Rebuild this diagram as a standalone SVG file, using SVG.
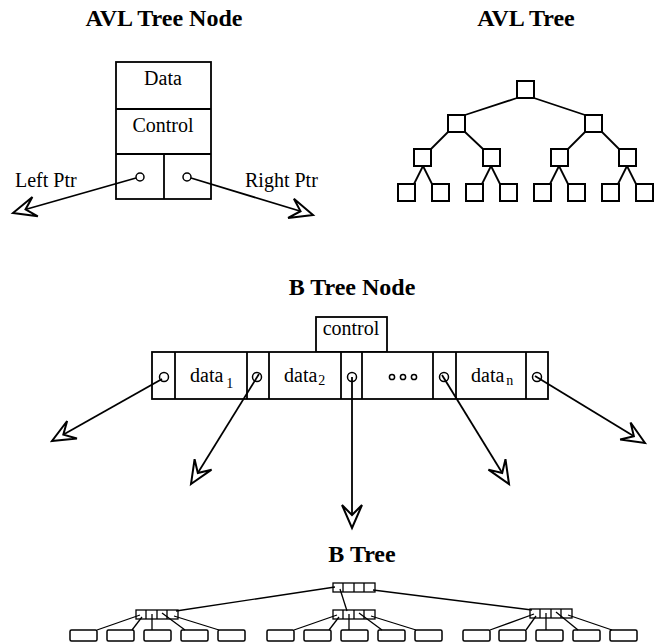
<svg xmlns="http://www.w3.org/2000/svg" width="654" height="644" viewBox="0 0 654 644">
<style>
.t{font-family:"Liberation Serif","Times New Roman",serif;fill:#000}
.title{font-size:24px;font-weight:bold}
.lbl{font-size:20px}
.sub{font-size:14px}
.bx{fill:#fff;stroke:#000;stroke-width:1.8}
.ln{fill:none;stroke:#000;stroke-width:1.8}
.thin{fill:none;stroke:#000;stroke-width:1.3}
.sq{fill:#fff;stroke:#000;stroke-width:2}
.leaf{fill:#fff;stroke:#000;stroke-width:1.5}
.mn{fill:#fff;stroke:#000;stroke-width:1.3}
.cir{fill:#fff;stroke:#000;stroke-width:1.5}
</style>
<defs>
<marker id="ah" markerUnits="userSpaceOnUse" orient="auto" refX="0" refY="0" markerWidth="30" markerHeight="30" overflow="visible">
<path d="M0,0 L-23,-10 L-13,0 L-23,10 Z" fill="#fff" stroke="#000" stroke-width="2" stroke-linejoin="miter"/>
</marker>
</defs>
<rect width="654" height="644" fill="#fff"/>

<!-- Titles -->
<text class="t title" x="164" y="26" text-anchor="middle">AVL Tree Node</text>
<text class="t title" x="526" y="26" text-anchor="middle">AVL Tree</text>
<text class="t title" x="352" y="295" text-anchor="middle">B Tree Node</text>
<text class="t title" x="362" y="562" text-anchor="middle">B Tree</text>

<!-- AVL Tree Node -->
<g id="avl-node">
<rect class="bx" x="116" y="62" width="95" height="137"/>
<line class="ln" x1="116" y1="109" x2="211" y2="109"/>
<line class="ln" x1="116" y1="154" x2="211" y2="154"/>
<line class="ln" x1="164" y1="154" x2="164" y2="199"/>
<text class="t lbl" x="163" y="85" text-anchor="middle">Data</text>
<text class="t lbl" x="163" y="132" text-anchor="middle">Control</text>
<circle class="cir" cx="140" cy="177" r="4"/>
<circle class="cir" cx="187" cy="177" r="4"/>
</g>
<text class="t lbl" x="15" y="187">Left Ptr</text>
<text class="t lbl" x="245" y="187">Right Ptr</text>

<!-- AVL Tree -->
<g id="avl-tree">
<rect class="sq" x="517" y="81" width="17" height="17"/>
<rect class="sq" x="448" y="115" width="17" height="17"/>
<rect class="sq" x="585" y="115" width="17" height="17"/>
<rect class="sq" x="414" y="149" width="17" height="17"/>
<rect class="sq" x="483" y="149" width="17" height="17"/>
<rect class="sq" x="551" y="149" width="17" height="17"/>
<rect class="sq" x="619" y="149" width="17" height="17"/>
<rect class="sq" x="398" y="184" width="17" height="17"/>
<rect class="sq" x="432" y="184" width="17" height="17"/>
<rect class="sq" x="466" y="184" width="17" height="17"/>
<rect class="sq" x="500" y="184" width="17" height="17"/>
<rect class="sq" x="534" y="184" width="17" height="17"/>
<rect class="sq" x="568" y="184" width="17" height="17"/>
<rect class="sq" x="602" y="184" width="17" height="17"/>
<rect class="sq" x="636" y="184" width="17" height="17"/>
</g>

<!-- B Tree Node -->
<g id="btree-node">
<rect class="bx" x="316" y="317" width="71" height="35"/>
<text class="t lbl" x="351" y="335" text-anchor="middle">control</text>
<rect class="bx" x="152" y="352" width="396" height="47"/>
<line class="ln" x1="175" y1="352" x2="175" y2="399"/>
<line class="ln" x1="247" y1="352" x2="247" y2="399"/>
<line class="ln" x1="269" y1="352" x2="269" y2="399"/>
<line class="ln" x1="341" y1="352" x2="341" y2="399"/>
<line class="ln" x1="362" y1="352" x2="362" y2="399"/>
<line class="ln" x1="433" y1="352" x2="433" y2="399"/>
<line class="ln" x1="456" y1="352" x2="456" y2="399"/>
<line class="ln" x1="526" y1="352" x2="526" y2="399"/>
<text class="t lbl" x="190" y="382">data<tspan class="sub" dx="3" dy="6">1</tspan></text>
<text class="t lbl" x="284" y="382">data<tspan class="sub" dx="1" dy="3">2</tspan></text>
<circle class="cir" cx="392" cy="377" r="2.6"/>
<circle class="cir" cx="403" cy="377" r="2.6"/>
<circle class="cir" cx="414" cy="377" r="2.6"/>
<text class="t lbl" x="471" y="382">data<tspan class="sub" dx="2" dy="3">n</tspan></text>
<circle class="cir" cx="164" cy="377" r="4.5"/>
<circle class="cir" cx="257" cy="377" r="4.5"/>
<circle class="cir" cx="352" cy="377" r="4.5"/>
<circle class="cir" cx="444" cy="377" r="4.5"/>
<circle class="cir" cx="537" cy="377" r="4.5"/>
</g>

<!-- B Tree -->
<g id="btree">
<g id="broot">
<rect class="mn" x="333" y="583" width="42" height="9"/>
<line class="thin" x1="343" y1="583" x2="343" y2="592"/>
<line class="thin" x1="354" y1="583" x2="354" y2="592"/>
<line class="thin" x1="364" y1="583" x2="364" y2="592"/>
</g>
<g id="bn-left">
<rect class="mn" x="136" y="610" width="42" height="9"/>
<line class="thin" x1="146" y1="610" x2="146" y2="619"/>
<line class="thin" x1="157" y1="610" x2="157" y2="619"/>
<line class="thin" x1="167" y1="610" x2="167" y2="619"/>
</g>
<g id="bn-mid">
<rect class="mn" x="333" y="610" width="42" height="9"/>
<line class="thin" x1="343" y1="610" x2="343" y2="619"/>
<line class="thin" x1="354" y1="610" x2="354" y2="619"/>
<line class="thin" x1="364" y1="610" x2="364" y2="619"/>
</g>
<g id="bn-right">
<rect class="mn" x="530" y="609" width="42" height="9"/>
<line class="thin" x1="540" y1="609" x2="540" y2="618"/>
<line class="thin" x1="551" y1="609" x2="551" y2="618"/>
<line class="thin" x1="561" y1="609" x2="561" y2="618"/>
</g>
<g id="leaves">
<rect class="leaf" x="70" y="630" width="27" height="11" rx="1.5"/>
<rect class="leaf" x="107" y="630" width="27" height="11" rx="1.5"/>
<rect class="leaf" x="144" y="630" width="27" height="11" rx="1.5"/>
<rect class="leaf" x="181" y="630" width="27" height="11" rx="1.5"/>
<rect class="leaf" x="218" y="630" width="27" height="11" rx="1.5"/>
<rect class="leaf" x="267" y="630" width="27" height="11" rx="1.5"/>
<rect class="leaf" x="304" y="630" width="27" height="11" rx="1.5"/>
<rect class="leaf" x="341" y="630" width="27" height="11" rx="1.5"/>
<rect class="leaf" x="378" y="630" width="27" height="11" rx="1.5"/>
<rect class="leaf" x="415" y="630" width="27" height="11" rx="1.5"/>
<rect class="leaf" x="463" y="630" width="27" height="11" rx="1.5"/>
<rect class="leaf" x="499" y="630" width="27" height="11" rx="1.5"/>
<rect class="leaf" x="536" y="630" width="27" height="11" rx="1.5"/>
<rect class="leaf" x="573" y="630" width="27" height="11" rx="1.5"/>
<rect class="leaf" x="610" y="630" width="27" height="11" rx="1.5"/>
</g>
</g>

<!-- Connectors -->
<g id="connectors">
<line class="ln" x1="136" y1="178" x2="13" y2="213" marker-end="url(#ah)"/>
<line class="ln" x1="191" y1="178" x2="313" y2="215" marker-end="url(#ah)"/>

<line class="ln" x1="517" y1="98" x2="465" y2="115"/>
<line class="ln" x1="534" y1="98" x2="585" y2="115"/>
<line class="ln" x1="448" y1="132" x2="431" y2="149"/>
<line class="ln" x1="465" y1="132" x2="483" y2="149"/>
<line class="ln" x1="585" y1="132" x2="568" y2="149"/>
<line class="ln" x1="602" y1="132" x2="619" y2="149"/>
<line class="ln" x1="423" y1="166" x2="414" y2="184"/>
<line class="ln" x1="423" y1="166" x2="432" y2="184"/>
<line class="ln" x1="491" y1="166" x2="482" y2="184"/>
<line class="ln" x1="491" y1="166" x2="500" y2="184"/>
<line class="ln" x1="559" y1="166" x2="550" y2="184"/>
<line class="ln" x1="559" y1="166" x2="568" y2="184"/>
<line class="ln" x1="627" y1="166" x2="618" y2="184"/>
<line class="ln" x1="627" y1="166" x2="636" y2="184"/>

<line class="ln" x1="162" y1="379" x2="52" y2="441" marker-end="url(#ah)"/>
<line class="ln" x1="259" y1="374" x2="191" y2="484" marker-end="url(#ah)"/>
<line class="ln" x1="352" y1="377" x2="352" y2="528" marker-end="url(#ah)"/>
<line class="ln" x1="442" y1="375" x2="509" y2="484" marker-end="url(#ah)"/>
<line class="ln" x1="535" y1="376" x2="645" y2="443" marker-end="url(#ah)"/>

<line class="thin" x1="335" y1="587" x2="176" y2="611"/>
<line class="thin" x1="373" y1="590" x2="532" y2="610"/>
<line class="thin" x1="340" y1="589" x2="347" y2="611"/>

<line class="thin" x1="140" y1="615" x2="97" y2="630"/>
<line class="thin" x1="142" y1="617" x2="132" y2="630"/>
<line class="thin" x1="152" y1="614" x2="152" y2="630"/>
<line class="thin" x1="162" y1="613" x2="185" y2="630"/>
<line class="thin" x1="174" y1="616" x2="219" y2="630"/>

<line class="thin" x1="337" y1="615" x2="294" y2="630"/>
<line class="thin" x1="339" y1="617" x2="329" y2="630"/>
<line class="thin" x1="349" y1="614" x2="349" y2="630"/>
<line class="thin" x1="359" y1="613" x2="382" y2="630"/>
<line class="thin" x1="371" y1="616" x2="416" y2="630"/>

<line class="thin" x1="534" y1="614" x2="490" y2="630"/>
<line class="thin" x1="536" y1="616" x2="526" y2="630"/>
<line class="thin" x1="546" y1="613" x2="546" y2="630"/>
<line class="thin" x1="556" y1="612" x2="578" y2="630"/>
<line class="thin" x1="568" y1="615" x2="612" y2="630"/>
</g>
</svg>
